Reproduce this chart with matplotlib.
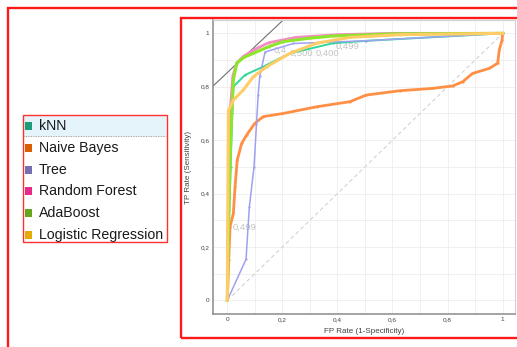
import matplotlib.pyplot as plt
from matplotlib.patches import Rectangle
from matplotlib.lines import Line2D

# classifier names and their colours (legend swatch / curve)
names = ["kNN", "Naive Bayes", "Tree", "Random Forest", "AdaBoost", "Logistic Regression"]
swatch_colors = ["#1b9e77", "#d95f02", "#7570b3", "#e7298a", "#66a61e", "#e6ab02"]
curve_colors = ["#2fd99a", "#ff8f45", "#a0a0f2", "#f48cc4", "#8ee62a", "#ffcc66"]

# ROC points (FP rate, TP rate) per classifier
knn_fpr = [0, 0.005, 0.012, 0.018, 0.022, 0.064, 0.13, 0.227, 0.384, 0.505, 1.0]
knn_tpr = [0, 0.25, 0.5, 0.7, 0.8, 0.844, 0.875, 0.925, 0.963, 0.972, 1.0]

nb_fpr = [0, 0.005, 0.01, 0.022, 0.028, 0.036, 0.052, 0.07, 0.1, 0.13, 0.203, 0.324,
          0.445, 0.505, 0.626, 0.746, 0.819, 0.855, 0.891, 0.952, 0.982, 0.988, 0.998, 1.0]
nb_tpr = [0, 0.15, 0.276, 0.326, 0.425, 0.525, 0.588, 0.619, 0.663, 0.688, 0.7, 0.725,
          0.744, 0.769, 0.785, 0.794, 0.803, 0.819, 0.85, 0.869, 0.888, 0.938, 0.975, 1.0]

tree_fpr = [0, 0.068, 0.08, 0.097, 0.106, 0.112, 0.118, 0.137, 0.24, 0.5, 1.0]
tree_tpr = [0, 0.154, 0.35, 0.5, 0.66, 0.77, 0.84, 0.93, 0.962, 0.972, 1.0]

rf_fpr = [0, 0.003, 0.008, 0.012, 0.02, 0.035, 0.06, 0.1, 0.15, 0.25, 0.4, 0.6, 1.0]
rf_tpr = [0, 0.3, 0.6, 0.73, 0.84, 0.89, 0.915, 0.94, 0.965, 0.985, 0.995, 1.0, 1.0]

ada_fpr = [0, 0.005, 0.012, 0.022, 0.034, 0.06, 0.094, 0.15, 0.203, 0.3, 0.384, 0.6, 1.0]
ada_tpr = [0, 0.3, 0.6, 0.825, 0.888, 0.91, 0.925, 0.95, 0.969, 0.982, 0.99, 0.998, 1.0]

lr_fpr = [0, 0.002, 0.004, 0.022, 0.058, 0.094, 0.143, 0.227, 0.324, 0.445, 0.626, 1.0]
lr_tpr = [0, 0.4, 0.71, 0.75, 0.788, 0.837, 0.875, 0.925, 0.963, 0.985, 0.995, 1.0]

curves = [(knn_fpr, knn_tpr), (nb_fpr, nb_tpr), (tree_fpr, tree_tpr),
          (rf_fpr, rf_tpr), (ada_fpr, ada_tpr), (lr_fpr, lr_tpr)]
widths = [1.4, 2.0, 1.1, 2.0, 2.2, 2.2]

# threshold labels (text, x, y)
thr_labels = [("0,499", 0.02, 0.275), ("0,4", 0.168, 0.938), ("0,500", 0.226, 0.925),
              ("0,400", 0.32, 0.925), ("0,499", 0.393, 0.95)]

# iso-performance line
iso_intercept = 0.853
iso_slope = 0.97

ticks = [0, 0.2, 0.4, 0.6, 0.8, 1.0]
tick_labels = ["0", "0,2", "0,4", "0,6", "0,8", "1"]

W, H = 517, 347
fig = plt.figure(figsize=(W / 100, H / 100), dpi=100)
fig.patch.set_facecolor("white")
plt.rcParams["font.family"] = ["Liberation Sans", "DejaVu Sans"]


def fx(px):
    return px / W


def fy(py):
    return 1 - py / H


# ROC plot
ax = fig.add_axes([fx(213), fy(314), fx(515) - fx(213), fy(20) - fy(314)])
ax.set_xlim(-0.052, 1.045)
ax.set_ylim(-0.051, 1.05)
ax.set_xticks([i / 10 for i in range(0, 11)], minor=True)
ax.set_yticks([i / 10 for i in range(0, 11)], minor=True)
ax.set_xticks(ticks)
ax.set_yticks(ticks)
ax.set_xticklabels(tick_labels)
ax.set_yticklabels(tick_labels)
ax.tick_params(which="both", length=0, labelsize=4.6, colors="#444444", pad=2.5)
ax.grid(which="both", color="#eeeeee", lw=0.6)
ax.set_axisbelow(True)
for side in ["left", "bottom"]:
    ax.spines[side].set_color("#8a8a8a")
    ax.spines[side].set_linewidth(1.1)
for side in ["top", "right"]:
    ax.spines[side].set_color("#d0d0d0")
    ax.spines[side].set_linewidth(0.8)
ax.set_xlabel("FP Rate (1-Specificity)", fontsize=5.8, color="#444444", labelpad=4)
ax.set_ylabel("TP Rate (Sensitivity)", fontsize=5.8, color="#444444", labelpad=6)

ax.plot([0, 1], [0, 1], ls=(0, (4, 3)), color="#cccccc", lw=0.7, zorder=1)
ax.axline((0, iso_intercept), slope=iso_slope, color="#707070", lw=0.8, zorder=2)

for txt, x, y in thr_labels:
    ax.text(x, y, txt, fontsize=6.8, color="#c4c4c4", va="center", ha="left", zorder=2)

for (xs, ys), col, lw in zip(curves, curve_colors, widths):
    ax.plot(xs, ys, color=col, lw=lw, marker="o", ms=1.6, mew=0, zorder=3,
            solid_joinstyle="round")

# legend list
lax = fig.add_axes([fx(23), fy(242), fx(167) - fx(23), fy(115) - fy(242)])
lax.set_xlim(23, 167)
lax.set_ylim(242, 115)
lax.axis("off")
lax.add_patch(Rectangle((24, 116), 142, 19.5, facecolor="#e5f3fb", edgecolor="none"))
lax.add_line(Line2D([24, 166], [136, 136], color="#888888", lw=0.6, ls=(0, (1, 1))))
rows = [126, 148, 169.5, 191, 213, 235]
for name, col, y in zip(names, swatch_colors, rows):
    lax.add_patch(Rectangle((25, y - 4), 6.5, 8, facecolor=col, edgecolor="none"))
    lax.text(39, y, name, fontsize=10.2, color="#1a1a1a", va="center", ha="left",
             clip_on=True)

# red outlines
fig.add_artist(Rectangle((fx(8), fy(360)), fx(530) - fx(8), fy(8) - fy(360),
                         transform=fig.transFigure, fill=False, edgecolor="#ff1a1a", lw=1.7))
fig.add_artist(Rectangle((fx(180.5), fy(338)), fx(530) - fx(180.5), fy(17.5) - fy(338),
                         transform=fig.transFigure, fill=False, edgecolor="#ff1a1a", lw=1.7))
fig.add_artist(Rectangle((fx(23), fy(242)), fx(167) - fx(23), fy(115) - fy(242),
                         transform=fig.transFigure, fill=False, edgecolor="#ff3030", lw=1.0))

fig.savefig("out.png", dpi=100)
